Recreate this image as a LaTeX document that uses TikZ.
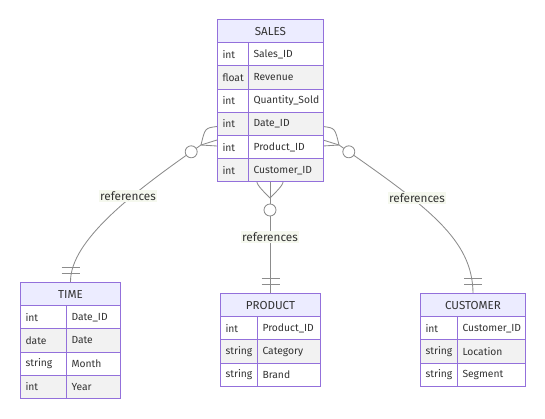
\documentclass[tikz,border=0pt]{standalone}
\usepackage{fontspec}
\setmainfont{Fira Sans}
\definecolor{bord}{HTML}{9370DB}
\definecolor{hdrfill}{HTML}{ECECFF}
\definecolor{alt}{HTML}{F2F2F2}
\definecolor{edgec}{HTML}{8C8C8C}
\definecolor{txt}{HTML}{333333}
\definecolor{lblbg}{HTML}{F5F8EE}
\pgfdeclarelayer{bg}
\pgfsetlayers{bg,main}
\newcommand\ertable[6]{%
  \def\tN{#1}\def\tA{#2}\def\tB{#3}\def\tC{#4}\def\tT{#5}%
  \pgfmathsetmacro\hw{#4-#2}%
  \node[hdrbox, minimum width=\hw pt] (#1) at (#2,#5) {#6};}
\newcommand\errow[4]{%
  \pgfmathsetmacro\ry{\tT+23.2*#1}%
  \pgfmathsetmacro\wa{\tB-\tA}\pgfmathsetmacro\twa{\wa-10}%
  \pgfmathsetmacro\wb{\tC-\tB}\pgfmathsetmacro\twb{\wb-10}%
  \node[cellbase, fill=#2, minimum width=\wa pt, text width=\twa pt] (\tN-t#1) at (\tA,\ry) {#3};
  \node[cellbase, fill=#2, minimum width=\wb pt, text width=\twb pt] (\tN-f#1) at (\tB,\ry) {#4};}
\begin{document}
\begin{tikzpicture}[x=1pt,y=-1pt,
  font=\fontsize{10.3}{12}\selectfont,
  every node/.style={text=txt},
  cellbase/.style={draw=bord, line width=1pt, inner xsep=5pt, inner ysep=0pt, anchor=north west, align=left, minimum height=23.2pt},
  hdrbox/.style={draw=bord, line width=1pt, fill=hdrfill, anchor=north west, inner sep=0pt, minimum height=23.2pt, font=\fontsize{11.6}{13}\selectfont},
  conn/.style={draw=edgec, line width=0.85pt},
  ring/.style={circle, draw=edgec, fill=white, line width=0.85pt, minimum size=12pt, inner sep=0pt},
  rel/.style={fill=lblbg, inner xsep=1.5pt, inner ysep=1.5pt, font=\fontsize{11.8}{13}\selectfont}]
\useasboundingbox (0,0) rectangle (545,418);

% SALES
\ertable{sales}{217}{248}{323}{19}{SALES}
\errow{1}{white}{int}{Sales\_ID}
\errow{2}{alt}{float}{Revenue}
\errow{3}{white}{int}{Quantity\_Sold}
\errow{4}{alt}{int}{Date\_ID}
\errow{5}{white}{int}{Product\_ID}
\errow{6}{alt}{int}{Customer\_ID}
% TIME
\ertable{time}{20}{66}{120}{282}{TIME}
\errow{1}{white}{int}{Date\_ID}
\errow{2}{alt}{date}{Date}
\errow{3}{white}{string}{Month}
\errow{4}{alt}{int}{Year}
% PRODUCT
\ertable{product}{220}{257}{320}{293}{PRODUCT}
\errow{1}{white}{int}{Product\_ID}
\errow{2}{alt}{string}{Category}
\errow{3}{white}{string}{Brand}
% CUSTOMER
\ertable{customer}{420}{457}{525}{293}{CUSTOMER}
\errow{1}{white}{int}{Customer\_ID}
\errow{2}{alt}{string}{Location}
\errow{3}{white}{string}{Segment}

\begin{pgfonlayer}{bg}
% left: SALES -> TIME
\coordinate (lC) at (201,145);
\coordinate (lE) at (217,146);
\coordinate (lU) at (217,126.5);
\coordinate (lM) at (217,140);
\draw[conn] (lE) -- (lC) .. controls (135.4,190.6) and (70,240) .. (time.north);
\draw[conn] (lC) .. controls (205,128) .. (lU);
\draw[conn] (lC) -- (lM);
\node[ring] (lR) at (191.2,151.8) {};
\draw[conn] ([xshift=-9pt,yshift=9pt]time.north) -- ([xshift=9pt,yshift=9pt]time.north);
\draw[conn] ([xshift=-9pt,yshift=15pt]time.north) -- ([xshift=9pt,yshift=15pt]time.north);
% right: SALES -> CUSTOMER
\coordinate (rC) at (339,145);
\coordinate (rE) at (323,146);
\coordinate (rU) at (323,126.5);
\coordinate (rM) at (323,140);
\draw[conn] (rE) -- (rC) .. controls (429.2,207.7) and (472.5,240) .. (customer.north);
\draw[conn] (rC) .. controls (335,128) .. (rU);
\draw[conn] (rC) -- (rM);
\node[ring] (rR) at (348.8,151.8) {};
\draw[conn] ([xshift=-9pt,yshift=9pt]customer.north) -- ([xshift=9pt,yshift=9pt]customer.north);
\draw[conn] ([xshift=-9pt,yshift=15pt]customer.north) -- ([xshift=9pt,yshift=15pt]customer.north);
% middle: SALES -> PRODUCT
\coordinate (mA) at (270,162);
\coordinate (mC) at (270,198);
\draw[conn] (sales-f6.south -| product.north) -- (product.north);
\draw[conn] (mA) .. controls (252,180) .. (mC);
\draw[conn] (mA) .. controls (288,180) .. (mC);
\node[ring] (mR) at (270,210) {};
\draw[conn] ([xshift=-9pt,yshift=9pt]product.north) -- ([xshift=9pt,yshift=9pt]product.north);
\draw[conn] ([xshift=-9pt,yshift=15pt]product.north) -- ([xshift=9pt,yshift=15pt]product.north);
\end{pgfonlayer}

\node[rel] (lab1) at (128,196) {references};
\node[rel] (lab2) at (270,237) {references};
\node[rel] (lab3) at (417,198) {references};
\end{tikzpicture}
\end{document}
